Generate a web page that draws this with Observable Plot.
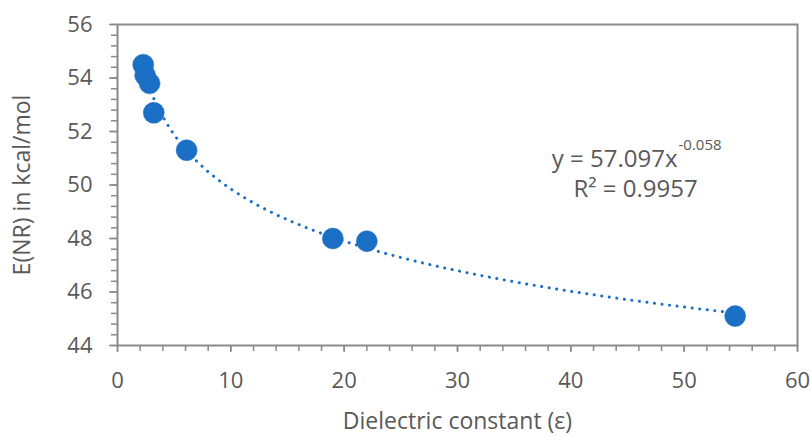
<!DOCTYPE html>
<html>
<head>
<meta charset="utf-8">
<script src="https://cdn.jsdelivr.net/npm/d3@7"></script>
<script src="https://cdn.jsdelivr.net/npm/@observablehq/plot@0.6"></script>
<style>
  html, body { margin: 0; padding: 0; background: #fff; }
  #chart { width: 811px; height: 437px; }
</style>
</head>
<body>
<div id="chart"></div>
<script>
// Data
const epsilon = [2.27, 2.44, 2.83, 3.2, 6.1, 19.0, 22.0, 54.5];
const energy  = [54.5, 54.1, 53.8, 52.7, 51.3, 48.0, 47.9, 45.1];
const xMajorTicks = [0, 10, 20, 30, 40, 50, 60];
const yMajorTicks = [44, 46, 48, 50, 52, 54, 56];
const equationMain = "y = 57.097x";
const equationExp = "-0.058";
const rSquared = "R² = 0.9957";
const xLabel = "Dielectric constant (ε)";
const yLabel = "E(NR) in kcal/mol";

const points = epsilon.map((e, i) => ({x: e, y: energy[i]}));

// Power trendline fitted from the data (least squares in log-log space, like Excel)
const lx = epsilon.map(Math.log), ly = energy.map(Math.log);
const mx = d3.mean(lx), my = d3.mean(ly);
const b = d3.sum(lx.map((v, i) => (v - mx) * (ly[i] - my))) / d3.sum(lx.map(v => (v - mx) ** 2));
const a = Math.exp(my - b * mx);
const xmin = d3.min(epsilon), xmax = d3.max(epsilon);
const trend = d3.range(0, 201).map(i => {
  const x = xmin + (xmax - xmin) * i / 200;
  return {x, y: a * Math.pow(x, b)};
});

const grey = "#8a8a8a";
const textGrey = "#595959";
const blue = "#1b6fc4";

const chart = Plot.plot({
  width: 811,
  height: 437,
  marginLeft: 117,
  marginRight: 14,
  marginTop: 24,
  marginBottom: 92,
  style: {fontFamily: "'Open Sans', Lato, sans-serif", color: textGrey, background: "#fff", fontSize: "22px"},
  x: {domain: [0, 60]},
  y: {domain: [44, 56]},
  marks: [
    Plot.frame({stroke: grey, strokeWidth: 2}),
    // minor ticks
    Plot.axisX({ticks: d3.range(0, 61, 2), tickSize: 6, tickFormat: () => "", label: null, stroke: grey, strokeWidth: 1.5}),
    Plot.axisY({ticks: d3.range(0, 31).map(i => 44 + i * 0.4), tickSize: 6, tickFormat: () => "", label: null, stroke: grey, strokeWidth: 1.5}),
    // major ticks with labels
    Plot.axisX({ticks: xMajorTicks, tickSize: 7, tickPadding: 20, fontSize: 22, stroke: grey, strokeWidth: 1.5,
      label: null}),
    Plot.axisY({ticks: yMajorTicks, tickSize: 8, tickPadding: 17, fontSize: 22, stroke: grey, strokeWidth: 1.5,
      label: null}),
    Plot.axisX({ticks: [], label: xLabel, labelAnchor: "center", labelArrow: "none", labelOffset: 83, fontSize: 23}),
    Plot.axisY({ticks: [], label: yLabel, labelAnchor: "center", labelArrow: "none", labelOffset: 104, fontSize: 23}),
    Plot.line(trend, {x: "x", y: "y", stroke: blue, strokeWidth: 3, strokeDasharray: "0.1 7.5", strokeLinecap: "round"}),
    Plot.dot(points, {x: "x", y: "y", r: 10.5, fill: blue, stroke: blue, strokeWidth: 0.5}),
    Plot.text([equationMain], {frameAnchor: "top-left", dx: 560, dy: 125, text: d => d, textAnchor: "end", fontSize: 24, fill: textGrey}),
    Plot.text([equationExp], {frameAnchor: "top-left", dx: 561, dy: 115, text: d => d, textAnchor: "start", fontSize: 15, fill: textGrey}),
    Plot.text([rSquared], {frameAnchor: "top-left", dx: 518, dy: 155.5, text: d => d, textAnchor: "middle", fontSize: 24, fill: textGrey})
  ]
});

document.getElementById("chart").appendChild(chart);
</script>
</body>
</html>
